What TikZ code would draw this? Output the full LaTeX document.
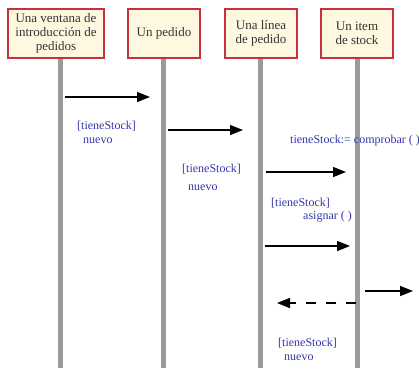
\documentclass[tikz,border=0pt]{standalone}
\usepackage{fontspec}
\setmainfont{Liberation Serif}
\usetikzlibrary{arrows.meta}
\definecolor{boxfill}{HTML}{FFF8E1}
\definecolor{boxdraw}{HTML}{C8303A}
\definecolor{lifegray}{HTML}{9B9B9F}
\definecolor{msgblue}{HTML}{3535A8}
\definecolor{boxtext}{HTML}{333333}
\begin{document}
\begin{tikzpicture}[x=1pt,y=-1pt,
 obj/.style={draw=boxdraw, fill=boxfill, line width=1.2pt, minimum height=49pt, minimum width=72pt, align=center, font=\fontsize{13}{14}\selectfont, inner sep=1pt, text=boxtext},
 life/.style={draw=lifegray, line width=5pt},
 msg/.style={draw=black, line width=1.5pt, -{Triangle[length=13pt,width=10pt]}},
 ret/.style={msg, dash pattern=on 10pt off 10pt},
 lbl/.style={text=msgblue, font=\fontsize{12}{13}\selectfont, inner sep=0pt, anchor=base west}
]
\useasboundingbox (0,0) rectangle (419,368);
% lifelines
\coordinate (l1t) at (60,58);  \coordinate (l1b) at (60,368);
\coordinate (l2t) at (163,58); \coordinate (l2b) at (163,368);
\coordinate (l3t) at (260,58); \coordinate (l3b) at (260,368);
\coordinate (l4t) at (357,58); \coordinate (l4b) at (357,368);
\draw[life] (l1t) -- (l1b);
\draw[life] (l2t) -- (l2b);
\draw[life] (l3t) -- (l3b);
\draw[life] (l4t) -- (l4b);
% objects
\node[obj, minimum width=96pt] (o1) at (56,33.5) {Una ventana de\\introducción de\\pedidos};
\node[obj] (o2) at (164,33.5) {Un pedido};
\node[obj] (o3) at (261,33.5) {Una línea\\de pedido};
\node[obj] (o4) at (357,33.5) {Un item\\de stock};
% message endpoints
\coordinate (m1s) at (65,97);  \coordinate (m1e) at (150,97);
\coordinate (m2s) at (168,130); \coordinate (m2e) at (243,130);
\coordinate (m3s) at (266,172); \coordinate (m3e) at (346,172);
\coordinate (m4s) at (265,246); \coordinate (m4e) at (350,246);
\coordinate (m5s) at (365,291); \coordinate (m5e) at (413,291);
\coordinate (m6s) at (356,303); \coordinate (m6e) at (277,303);
\draw[msg] (m1s) -- (m1e);
\draw[msg] (m2s) -- (m2e);
\draw[msg] (m3s) -- (m3e);
\draw[msg] (m4s) -- (m4e);
\draw[msg] (m5s) -- (m5e);
\draw[ret] (m6s) -- (m6e);
% labels
\node[lbl] (a1) at (77,129) {[tieneStock]};
\node[lbl] (a2) at (83,143) {nuevo};
\node[lbl] (b1) at (182,172) {[tieneStock]};
\node[lbl] (b2) at (188,190) {nuevo};
\node[lbl] (c1) at (290,143) {tieneStock:= comprobar ( )};
\node[lbl] (d1) at (271,206) {[tieneStock]};
\node[lbl] (d2) at (303,219) {asignar ( )};
\node[lbl] (e1) at (278,346) {[tieneStock]};
\node[lbl] (e2) at (284,360) {nuevo};
\end{tikzpicture}
\end{document}
